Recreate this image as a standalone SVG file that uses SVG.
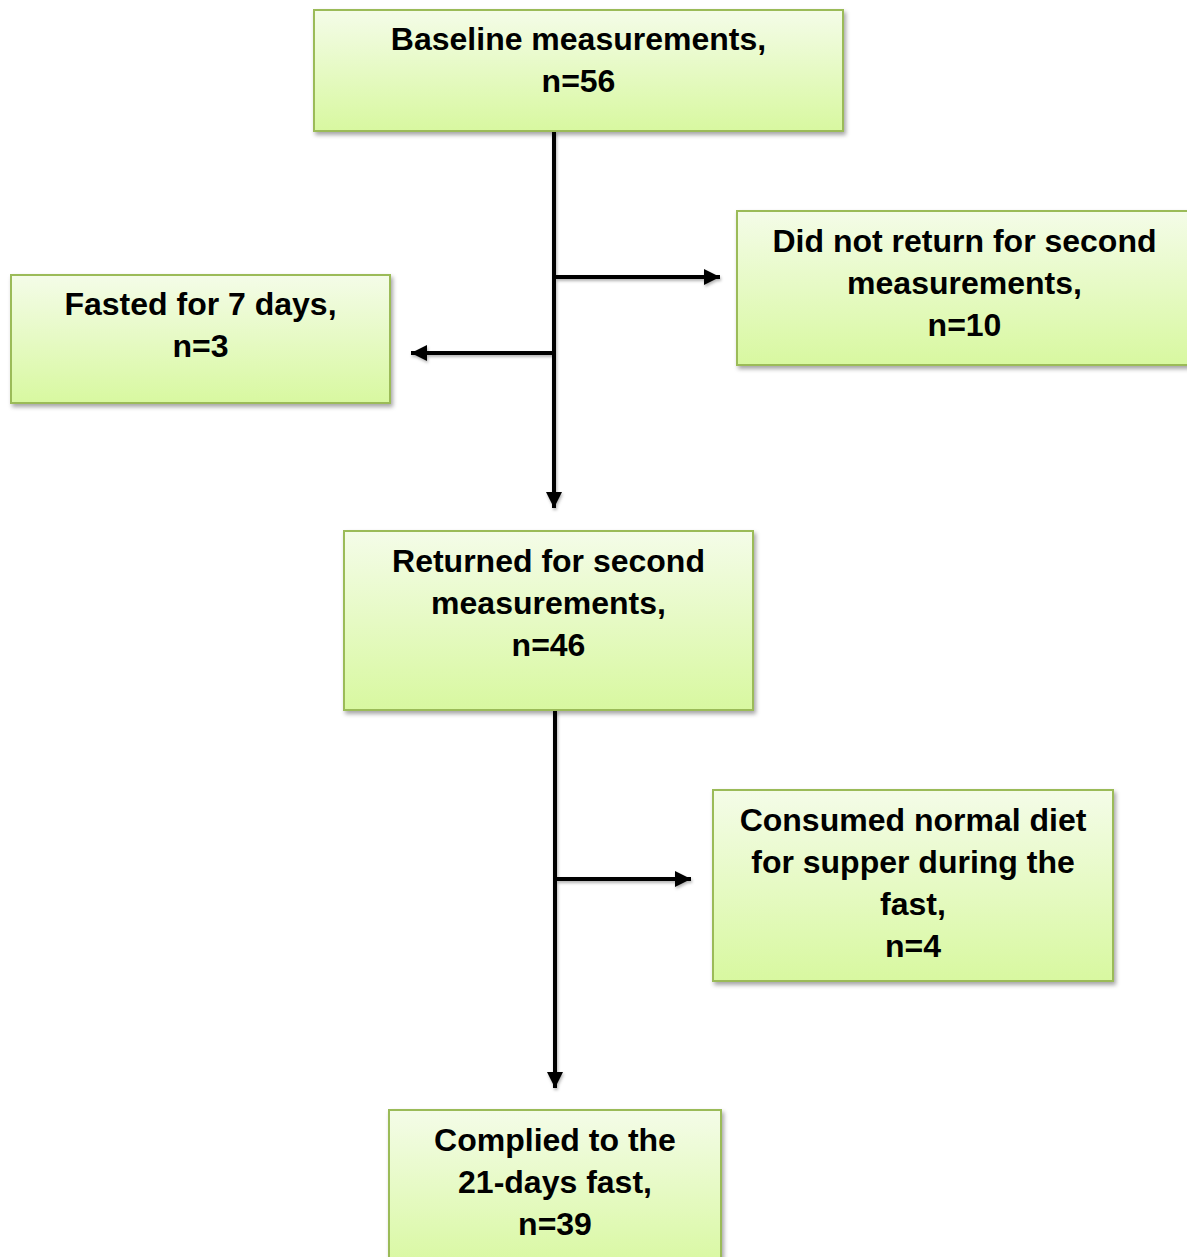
<svg xmlns="http://www.w3.org/2000/svg" width="1187" height="1257" viewBox="0 0 1187 1257">
<defs>
<linearGradient id="g" x1="0" y1="0" x2="0" y2="1">
<stop offset="0" stop-color="#f4fce8"/>
<stop offset="1" stop-color="#d8f8a0"/>
</linearGradient>
<filter id="sh" x="-10%" y="-10%" width="125%" height="130%">
<feDropShadow dx="2" dy="3" stdDeviation="2" flood-color="#000" flood-opacity="0.35"/>
</filter>
<filter id="lsh" x="-20%" y="-20%" width="140%" height="140%">
<feDropShadow dx="1" dy="2" stdDeviation="1.5" flood-color="#000" flood-opacity="0.3"/>
</filter>
<marker id="ah" viewBox="0 0 10 10" refX="10" refY="5" markerWidth="4" markerHeight="4" orient="auto" markerUnits="strokeWidth">
<path d="M0,0 L10,5 L0,10 Z" fill="#000"/>
</marker>
</defs>
<style>
.box{fill:url(#g);stroke:#9bbb59;stroke-width:2;filter:url(#sh)}
.t{font-family:"Liberation Sans",Arial,sans-serif;font-weight:bold;font-size:32px;fill:#000;text-anchor:middle}
.c{stroke:#000;stroke-width:4;fill:none;marker-end:url(#ah)}
.ln{stroke:#000;stroke-width:4;fill:none}
</style>
<g id="connectors" filter="url(#lsh)">
<path class="c" d="M554,131 L554,508"/>
<path class="c" d="M554,277 L720,277"/>
<path class="c" d="M554,353 L411,353"/>
<path class="c" d="M555,710 L555,1088"/>
<path class="c" d="M555,879 L691,879"/>
</g>
<g id="baseline">
<rect class="box" x="314" y="10" width="529" height="121"/>
<text class="t" x="578.5" y="50">Baseline measurements,</text>
<text class="t" x="578.5" y="92">n=56</text>
</g>
<g id="didnotreturn">
<rect class="box" x="737" y="211" width="456" height="154"/>
<text class="t" x="964.5" y="252">Did not return for second</text>
<text class="t" x="964.5" y="294">measurements,</text>
<text class="t" x="964.5" y="336">n=10</text>
</g>
<g id="fasted">
<rect class="box" x="11" y="275" width="379" height="128"/>
<text class="t" x="200.5" y="315">Fasted for 7 days,</text>
<text class="t" x="200.5" y="357">n=3</text>
</g>
<g id="returned">
<rect class="box" x="344" y="531" width="409" height="179"/>
<text class="t" x="548.5" y="572">Returned for second</text>
<text class="t" x="548.5" y="614">measurements,</text>
<text class="t" x="548.5" y="656">n=46</text>
</g>
<g id="consumed">
<rect class="box" x="713" y="790" width="400" height="191"/>
<text class="t" x="913" y="831">Consumed normal diet</text>
<text class="t" x="913" y="873">for supper during the</text>
<text class="t" x="913" y="915">fast,</text>
<text class="t" x="913" y="957">n=4</text>
</g>
<g id="complied">
<rect class="box" x="389" y="1110" width="332" height="160"/>
<text class="t" x="555" y="1151">Complied to the</text>
<text class="t" x="555" y="1193">21-days fast,</text>
<text class="t" x="555" y="1235">n=39</text>
</g>
</svg>
